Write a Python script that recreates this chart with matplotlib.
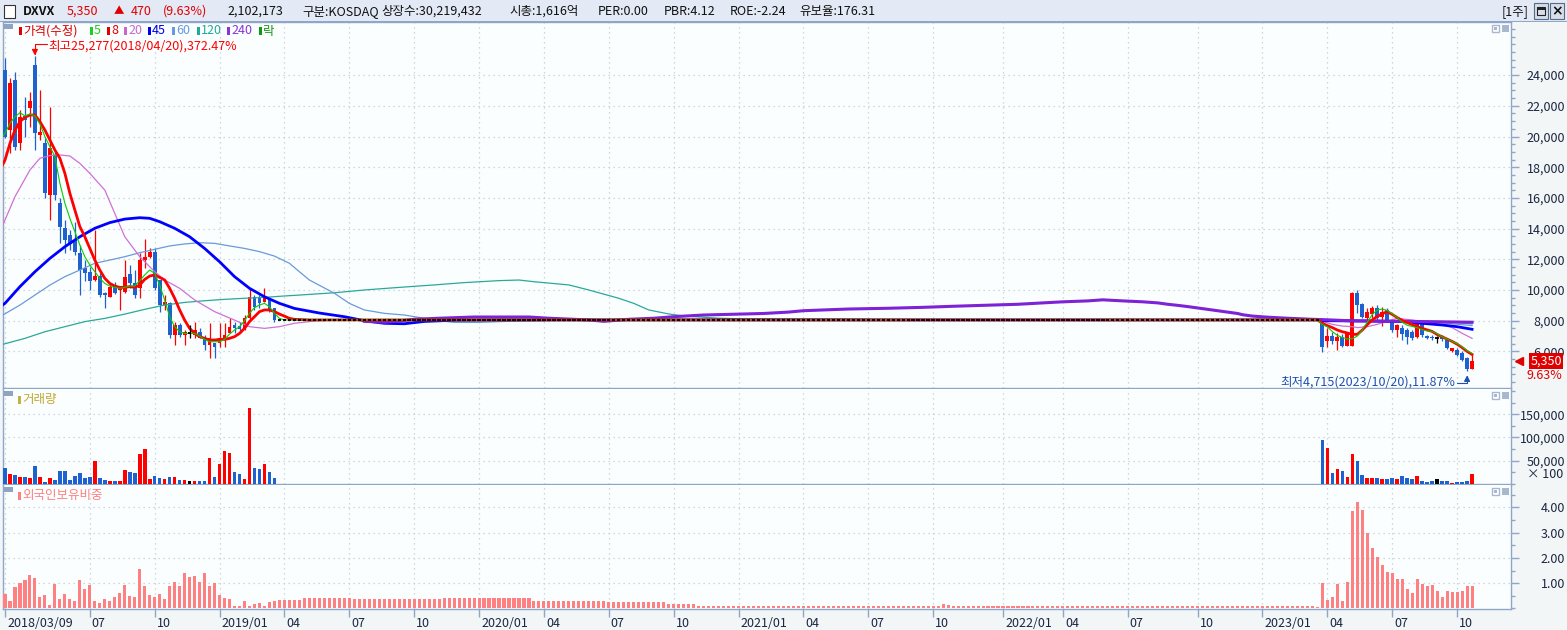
import numpy as np
import pandas as pd
import matplotlib
matplotlib.use("Agg")
import matplotlib.pyplot as plt
from matplotlib.patches import Rectangle
from matplotlib.ticker import FixedLocator, MultipleLocator, FuncFormatter
from matplotlib.transforms import ScaledTranslation, blended_transform_factory

plt.rcParams['font.family'] = ['Noto Sans CJK KR', 'DejaVu Sans']

# ---------------- data (weekly, adjusted price) ----------------
start_date = '2018-03-09'

# before the trading halt: 2018/03/09 ~ 2019/03/22
open_pre = [24330, 20420, 23680, 19550, 21340, 21840, 24660, 20100, 19550, 16190,
            18800, 15650, 14020, 13580, 13260, 12390, 11410, 11190, 10650, 10910,
            9820, 9560, 10260, 10000, 9890, 11040, 10480, 10110, 11950, 12130,
            12500, 10650, 9020, 9130, 7070, 7720, 7070, 7170, 7070, 7280,
            6960, 6410, 6520, 6520, 6740, 7170, 7720, 7650, 7500, 8150,
            9560, 9560, 9240, 9350, 8800]
high_pre = [25090, 23790, 24230, 21730, 22600, 22920, 25277, 23030, 19880, 21940,
            19120, 15970, 14560, 13910, 14450, 12930, 11950, 11520, 13910, 11080,
            9890, 10430, 10540, 10220, 11950, 11630, 11300, 12390, 13300, 12710,
            12710, 10650, 9670, 9240, 7940, 7830, 7390, 7720, 7940, 7500,
            7070, 7830, 6520, 7830, 7830, 8150, 7940, 7940, 8370, 10110,
            9670, 9670, 10110, 9460, 8800]
low_pre = [19880, 18900, 19120, 19120, 19990, 20640, 19120, 19770, 15970, 14560,
           15860, 13040, 12390, 12610, 12280, 9670, 10610, 10000, 10610, 9560,
           8800, 9560, 9740, 8700, 9820, 10110, 9460, 9460, 11410, 12060,
           10000, 8590, 8700, 6850, 6410, 6960, 6410, 6850, 6850, 6850,
           6090, 5550, 5550, 6310, 6310, 7170, 7170, 7170, 7390, 8040,
           8700, 8800, 9240, 8590, 7940]
close_pre = [19990, 23460, 19340, 21290, 21080, 22310, 20210, 20320, 16300, 19230,
             16190, 14130, 13260, 13000, 12500, 11300, 11080, 10610, 10930, 9670,
             9670, 10220, 9820, 10220, 10870, 10480, 9670, 11950, 12130, 12450,
             10110, 9020, 9240, 7070, 7720, 7070, 7280, 7170, 7390, 6850,
             6410, 6850, 6310, 6850, 7070, 7610, 7500, 7480, 8150, 9560,
             8910, 9130, 9460, 8700, 8050]

# trading halt: price frozen
halt_weeks = 209
halt_price = 8050

# after trading resumed: 2023/03/31 ~ 2023/10/27
open_post = [7940, 6680, 7030, 6680, 6960, 6370, 6370, 9780, 9070, 8200, 8420, 8810, 8260, 8700, 8050, 7390,
             7500, 7390, 7290, 6960, 7760, 7030, 6960, 6850, 6960, 6740, 6030, 6090, 5870, 5600, 4880]
high_post = [7940, 7500, 7290, 7180, 7110, 7290, 9850, 10000, 9130, 8810, 8980, 9000, 8920, 8800, 8100, 7760,
             7720, 7550, 7390, 7800, 7900, 7100, 7050, 7030, 7050, 6810, 6250, 6250, 6000, 5650, 5770]
low_post = [5980, 6310, 6460, 6090, 6310, 6370, 6370, 8480, 8150, 7890, 8150, 7950, 7680, 7950, 7290, 6960,
            6740, 6460, 6750, 6900, 6960, 6780, 6750, 6530, 6700, 6150, 5980, 5700, 5390, 4715, 4850]
close_post = [6310, 7030, 6680, 6960, 6370, 7180, 9780, 9020, 8260, 8550, 8810, 8200, 8590, 8000, 7390, 7720,
              7110, 6960, 6850, 7760, 7070, 6850, 6850, 6850, 6810, 6200, 6200, 5770, 5440, 4880, 5350]

# volume (x100 shares)
vol_pre = [34500, 21500, 19400, 15100, 15100, 12900, 38800, 15100, 4300, 12900,
           8600, 28000, 28000, 8600, 17200, 23700, 12900, 15100, 49600, 12900,
           8600, 6500, 6500, 6500, 30200, 25900, 23700, 64700, 75400, 10800,
           17200, 12900, 10800, 15100, 15100, 8600, 8600, 6500, 6500, 6500,
           6500, 56000, 15100, 43100, 71100, 66800, 25900, 21500, 10800, 163800,
           34500, 32300, 43100, 25900, 12900]
vol_post = [94800, 78300, 24400, 33000, 28000, 15800, 65400, 50300, 20000, 12900, 12900, 12900, 10800,
            10800, 12900, 10800, 17900, 12900, 10800, 17900, 6500, 5000, 6500, 10800, 6500, 6500,
            1500, 5000, 5000, 6500, 21000]

# foreign ownership ratio (%)
foreign_pre = [0.59, 0.31, 0.83, 1.02, 1.14, 1.34, 1.22, 0.47, 0.55, 0.12,
               0.98, 0.39, 0.59, 0.39, 0.28, 1.14, 0.79, 0.94, 0.28, 0.20,
               0.39, 0.31, 0.47, 0.63, 0.94, 0.51, 0.47, 1.57, 0.90, 0.55,
               0.47, 0.59, 0.39, 0.87, 1.06, 0.90, 1.42, 1.26, 1.30, 1.06,
               1.42, 0.90, 1.02, 0.55, 0.43, 0.39, 0.08, 0.08, 0.28, 0.08,
               0.16, 0.20, 0.08, 0.24, 0.28]
foreign_halt_vals = [0.32, 0.40, 0.36, 0.40, 0.28, 0.24, 0.17, 0.11, 0.16, 0.13, 0.09, 0.11, 0.08, 0.04]
foreign_halt_runs = [5, 10, 18, 18, 15, 12, 6, 49, 1, 1, 29, 36, 8, 1]
foreign_post = [1.02, 0.35, 0.46, 0.97, 0.31, 1.05, 3.87, 4.19, 3.90, 2.98, 2.40, 2.04, 1.72, 1.46, 1.41,
                1.17, 1.17, 0.77, 0.62, 1.17, 0.97, 0.89, 0.93, 0.70, 0.46, 0.70, 0.66, 0.66, 0.70, 0.90, 0.89]

# moving averages (week index, value)
ma5_w = list(range(-1, 57)) + [263] + list(range(264, 295))
ma5_v = [19770, 20210, 20860, 21290, 21550, 21340, 21470, 21340, 20820, 19990,
         19340, 18690, 16950, 15650, 14670, 13800, 12930, 12170, 11630, 11190,
         10760, 10430, 10260, 10170, 10110, 10170, 10260, 10260, 10610, 10980,
         11300, 11080, 10320, 9350, 8260, 7610, 7280, 7170, 7170, 7170,
         7000, 6780, 6630, 6630, 6630, 6780, 7130, 7390, 7610, 8000,
         8480, 8850, 9020, 9130, 8910, 8480, 8150, 8050,
         8050,
         7750, 7600, 7290, 7050, 6900, 6810, 6830, 7000, 7400, 7900, 8400, 8700, 8760, 8660, 8450,
         8200, 7900, 7700, 7630, 7540, 7420, 7330, 7300, 7150, 6950, 6800, 6650, 6500, 6300, 6050, 5870]

ma8_w = list(range(-1, 59)) + [61, 263] + list(range(264, 295))
ma8_v = [17820, 18470, 19560, 20420, 20970, 21250, 21400, 21400, 20970, 20420,
         19770, 19120, 18580, 17600, 16300, 15210, 14130, 13470, 12710, 11950,
         11300, 10760, 10430, 10260, 10170, 10170, 10220, 10170, 10320, 10690,
         10910, 10980, 10820, 10650, 10110, 9460, 8700, 8040, 7500, 7170,
         6960, 6850, 6740, 6740, 6780, 6780, 6850, 6960, 7170, 7500,
         7940, 8260, 8590, 8700, 8700, 8590, 8430, 8300, 8150, 8090,
         8050, 8050,
         7830, 7680, 7550, 7390, 7280, 7200, 7110, 7110, 7390, 7740, 8050, 8280, 8450, 8590, 8410,
         8200, 8020, 7880, 7740, 7600, 7500, 7400, 7300, 7100, 6950, 6800, 6650, 6470, 6250, 6000, 5800]

ma20_w = [-1, 2, 5, 7, 9, 11, 13, 15, 17, 20, 22, 24, 27, 30, 32, 35, 38, 42, 46, 49, 52, 55, 58, 62, 66,
          74, 263, 264, 266, 268, 270, 271, 273, 275, 277, 279, 282, 285, 288, 290, 292, 294]
ma20_v = [13800, 16080, 17820, 18580, 18760, 18800, 18730, 18250, 17600, 16510, 14990, 13470, 12170,
          11190, 10650, 10110, 9350, 8590, 8040, 7610, 7500, 7610, 7830, 7980, 8030,
          8050, 8050, 7960, 7760, 7650, 7610, 7550, 7610, 7760, 7980, 8150, 8050, 7890, 7760, 7550, 7180, 6850]

ma45_w = [-1, 0, 3, 6, 9, 12, 15, 18, 21, 24, 27, 29, 31, 34, 37, 40, 43, 46, 49, 52, 55, 58, 63, 68,
          72, 76, 80, 84, 90, 99, 263, 264, 273, 280, 284, 288, 291, 294]
ma45_v = [8910, 9130, 10220, 11190, 12060, 12820, 13470, 14020, 14390, 14620, 14710, 14670, 14450,
          14020, 13470, 12710, 11840, 10870, 10110, 9560, 9130, 8800, 8500, 8260,
          8000, 7830, 7800, 7950, 8030, 8050, 8050, 8000, 7980, 7940, 7830, 7720, 7610, 7440]

ma60_w = [-1, 3, 6, 9, 12, 15, 18, 21, 24, 27, 30, 33, 36, 39, 42, 45, 48, 51, 54, 57, 59, 61, 66, 69,
          72, 76, 80, 84, 87, 90, 95, 100, 114, 263, 264, 284, 288, 294]
ma60_v = [8260, 9020, 9670, 10320, 10870, 11300, 11740, 11950, 12170, 12430, 12650, 12870, 13000,
          13080, 13040, 12870, 12710, 12500, 12210, 11740, 11190, 10650, 9790, 9130,
          8700, 8480, 8370, 8160, 8000, 7890, 7890, 7950, 8050, 8050, 8030, 7980, 7860, 7680]

ma120_w = [-1, 4, 8, 12, 16, 20, 24, 28, 32, 36, 40, 44, 48, 52, 56, 59, 66, 72, 79, 86, 92, 99, 103,
           106, 113, 117, 123, 126, 129, 133, 136, 143, 148, 172, 176, 263, 264, 288, 294]
ma120_v = [6410, 6850, 7280, 7610, 7940, 8150, 8430, 8740, 9020, 9190, 9300, 9390, 9460, 9520, 9610,
           9670, 9820, 10000, 10170, 10330, 10480, 10610, 10650, 10540, 10330, 10000, 9460, 9130,
           8700, 8440, 8310, 8160, 8120, 8090, 8050, 8050, 8045, 7950, 7790]

ma240_w = [72, 76, 79, 82, 87, 94, 105, 109, 114, 117, 120, 125, 130, 134, 140, 146, 152, 157, 160,
           164, 169, 177, 184, 190, 196, 203, 208, 212, 217, 220, 224, 228, 231, 233, 235, 237, 239,
           241, 243, 245, 247, 248, 250, 253, 257, 262, 264, 270, 280, 294]
ma240_v = [7960, 7900, 7980, 8090, 8160, 8240, 8240, 8160, 8090, 8050, 7960, 8090, 8160, 8260, 8370,
           8420, 8470, 8560, 8650, 8700, 8760, 8810, 8870, 8940, 9000, 9070, 9160, 9230, 9290, 9360,
           9290, 9230, 9160, 9070, 9000, 8920, 8830, 8740, 8650, 8560, 8470, 8390, 8300, 8230, 8160,
           8090, 8070, 7990, 7960, 7900]

# ---------------- assemble ----------------
open_px = np.array(open_pre + [halt_price] * halt_weeks + open_post, dtype=float)
high_px = np.array(high_pre + [halt_price] * halt_weeks + high_post, dtype=float)
low_px = np.array(low_pre + [halt_price] * halt_weeks + low_post, dtype=float)
close_px = np.array(close_pre + [halt_price] * halt_weeks + close_post, dtype=float)
volume = np.concatenate([vol_pre, np.zeros(halt_weeks), vol_post])
foreign = np.concatenate([foreign_pre, np.repeat(foreign_halt_vals, foreign_halt_runs), foreign_post])
weeks = np.arange(len(close_px))
dates = pd.date_range(start_date, periods=len(weeks), freq='7D')

RED = '#FF0000'
BLUE = '#1F62CF'
AXC = '#8FA6C8'
TXT = '#1C2541'
GRID = '#C3CCD6'

col = np.where(close_px > open_px, RED, np.where(close_px < open_px, BLUE, 'black'))

W, H = 1567, 630
fig = plt.figure(figsize=(W / 100, H / 100), dpi=100, facecolor='#F2F6F6')


def rect(x0, y0, x1, y1):
    return [x0 / W, 1 - y1 / H, (x1 - x0) / W, (y1 - y0) / H]


def fig_rect(x0, y0, x1, y1, **kw):
    fig.add_artist(Rectangle((x0 / W, 1 - y1 / H), (x1 - x0) / W, (y1 - y0) / H,
                             transform=fig.transFigure, **kw))


def fig_text(x, y, s, **kw):
    fig.text(x / W, 1 - y / H, s, **kw)


ax_p = fig.add_axes(rect(3, 22, 1511, 388))
ax_v = fig.add_axes(rect(3, 389, 1511, 484), sharex=ax_p)
ax_f = fig.add_axes(rect(3, 485, 1511, 609), sharex=ax_p)

for ax in (ax_p, ax_v, ax_f):
    ax.set_facecolor('#FBFEFE')
    for s in ax.spines.values():
        s.set_color(AXC)
        s.set_linewidth(1)
    ax.set_axisbelow(True)
ax_v.spines['top'].set_visible(False)
ax_f.spines['top'].set_visible(False)

ax_p.set_xlim(-0.4, 301.8)
ax_p.set_ylim(3615, 27460)
ax_v.set_ylim(0, 204000)
ax_f.set_ylim(-0.02, 4.88)

# x ticks: first week of each quarter (the start date gets its own label)
tick_idx, tick_lbl = [0], [dates[0].strftime('%Y/%m/%d')]
for i in range(12, len(dates)):
    if dates[i].month != dates[i - 1].month and dates[i].month in (1, 4, 7, 10):
        tick_idx.append(i)
        tick_lbl.append(dates[i].strftime('%Y/%m') if dates[i].month == 1 else dates[i].strftime('%m'))

for ax in (ax_p, ax_v, ax_f):
    ax.set_xticks(tick_idx)
    ax.grid(True, axis='both', which='major', color=GRID, linestyle=(0, (1, 3)), lw=0.9)
ax_p.tick_params(axis='x', length=0, labelbottom=False)
ax_v.tick_params(axis='x', length=0, labelbottom=False)
ax_f.set_xticklabels(tick_lbl, ha='left')
ax_f.tick_params(axis='x', length=6, width=1, color=AXC, pad=0, labelsize=9, labelcolor=TXT)
for lab in ax_f.get_xticklabels():
    lab.set_transform(lab.get_transform() + ScaledTranslation(2 / 100, 0, fig.dpi_scale_trans))


def right_axis(ax, major, minor_step, fmt):
    ax.yaxis.tick_right()
    ax.yaxis.set_major_locator(FixedLocator(major))
    ax.yaxis.set_minor_locator(MultipleLocator(minor_step))
    ax.yaxis.set_major_formatter(FuncFormatter(fmt))
    ax.tick_params(axis='y', which='major', length=6, width=1, color=AXC, pad=33,
                   labelsize=9, labelcolor=TXT)
    ax.tick_params(axis='y', which='minor', length=3, width=1, color=AXC)
    for t in ax.yaxis.get_major_ticks():
        t.label2.set_horizontalalignment('right')


right_axis(ax_p, list(range(6000, 24001, 2000)), 500, lambda v, p: f'{int(v):,}')
right_axis(ax_v, [50000, 100000, 150000], 25000, lambda v, p: f'{int(v):,}')
right_axis(ax_f, [1, 2, 3, 4], 0.5, lambda v, p: f'{v:.2f}')

# ---------------- moving averages ----------------
ax_p.plot(ma120_w, ma120_v, color='#2AA89A', lw=0.9, zorder=4)
ax_p.plot(ma60_w, ma60_v, color='#6A9AD8', lw=0.9, zorder=4)
ax_p.plot(ma20_w, ma20_v, color='#D070D8', lw=0.9, zorder=4)
ax_p.plot(ma45_w, ma45_v, color='#0000FF', lw=2.0, zorder=4)
ax_p.plot(ma240_w, ma240_v, color='#7D22D6', lw=2.2, zorder=4)
ax_p.plot(ma8_w, ma8_v, color='#FF0000', lw=2.0, zorder=5)
ax_p.plot(ma5_w, ma5_v, color='#00D000', lw=0.8, zorder=5)

# ---------------- candles ----------------
flat = close_px == open_px
ax_p.vlines(weeks[~flat], low_px[~flat], high_px[~flat], colors=col[~flat], lw=0.9, zorder=3)
ax_p.bar(weeks[~flat], (close_px - open_px)[~flat], bottom=open_px[~flat], width=0.76,
         color=col[~flat], lw=0, zorder=3)
ax_p.vlines(weeks[flat], low_px[flat], high_px[flat], colors='black', lw=0.9, zorder=6)
ax_p.hlines(close_px[flat], weeks[flat] - 0.34, weeks[flat] + 0.34, colors='black', lw=1.3, zorder=6)

# ---------------- volume / foreign ----------------
ax_v.bar(weeks, volume, width=0.72, color=col, lw=0, zorder=3)
ax_f.bar(weeks, foreign, width=0.62, color='#FF8080', lw=0, zorder=3)

# ---------------- high / low marks ----------------
last = close_px[-1]
i_hi = int(np.argmax(high_px))
i_lo = int(np.argmin(low_px))
hi, lo = high_px[i_hi], low_px[i_lo]
hi_lbl = f'최고{int(hi):,}({dates[i_hi].strftime("%Y/%m/%d")}),{(hi - last) / last * 100:.2f}%'
lo_lbl = f'최저{int(lo):,}({dates[i_lo].strftime("%Y/%m/%d")}),{(last - lo) / last * 100:.2f}%'
ax_p.annotate('', xy=(i_hi, hi), xytext=(8.4, 8.6), textcoords='offset points',
              arrowprops=dict(arrowstyle='-|>,head_length=0.35,head_width=0.18', color=RED, lw=0.8,
                              connectionstyle='angle,angleA=180,angleB=90,rad=0',
                              shrinkA=0, shrinkB=0), zorder=7)
ax_p.annotate(hi_lbl, xy=(i_hi, hi), xytext=(9.4, 6.7), textcoords='offset points',
              ha='left', va='center', color=RED, fontsize=9, zorder=7)
ax_p.annotate('', xy=(i_lo, lo), xytext=(-7.5, -8.6), textcoords='offset points',
              arrowprops=dict(arrowstyle='-|>,head_length=0.35,head_width=0.18', color='#1F4FB0', lw=0.8,
                              connectionstyle='angle,angleA=0,angleB=90,rad=0',
                              shrinkA=0, shrinkB=3), zorder=7)
ax_p.annotate(lo_lbl, xy=(i_lo, lo), xytext=(-8.6, -7.9), textcoords='offset points',
              ha='right', va='center', color='#1F4FB0', fontsize=9, zorder=7)

# current price box on the axis
bt = blended_transform_factory(ax_p.transAxes, ax_p.transData)
chg = (close_px[-1] - close_px[-2]) / close_px[-2] * 100
ax_p.text(1.0338, last, f'{int(last):,}', transform=bt, ha='right', va='center', color='white',
          fontsize=9, clip_on=False, zorder=8,
          bbox=dict(boxstyle='square,pad=0.12', fc='#E00000', ec='none'))
ax_p.annotate(f'{chg:.2f}%', xy=(1.0338, last), xycoords=bt, xytext=(0, -10.5),
              textcoords='offset points', ha='right', va='center', color='#E00000', fontsize=9)
ax_p.plot([1.0055], [last], marker='<', color='#E00000', markersize=6, transform=bt, clip_on=False)

fig_text(1563, 475, '× 100', ha='right', va='center', fontsize=9, color=TXT)

# ---------------- header ----------------
fig_rect(0, 0, W, 21, facecolor='#E3EAF6', edgecolor='none')
fig_rect(0, 21, W, 22, facecolor=AXC, edgecolor='none')
fig_rect(3.5, 5, 14.5, 18, facecolor='white', edgecolor='#333333', lw=0.8)
hy = 11.5
fs = 9
fig_text(23, hy, 'DXVX', ha='left', va='center', fontsize=fs, color='#111111', fontweight='bold')
fig_text(67, hy, '5,350', ha='left', va='center', fontsize=fs, color='#E00000')
fig_text(114, hy, '▲', ha='left', va='center', fontsize=7.5, color='#E00000')
fig_text(131, hy, '470', ha='left', va='center', fontsize=fs, color='#E00000')
fig_text(163, hy, '(9.63%)', ha='left', va='center', fontsize=fs, color='#E00000')
for xx, s in [(227, '2,102,173'), (302, '구분:KOSDAQ'), (381, '상장수:30,219,432'),
              (509, '시총:1,616억'), (598, 'PER:0.00'), (664, 'PBR:4.12'),
              (730, 'ROE:-2.24'), (799, '유보율:176.31')]:
    fig_text(xx, hy, s, ha='left', va='center', fontsize=fs, color='#111111')
fig_text(1502, hy, '[1주]', ha='left', va='center', fontsize=fs, color='#111111')
fig_rect(1534, 3, 1548, 19, facecolor='#D5DEEA', edgecolor='#5A6A85', lw=0.8)
fig_rect(1537, 7, 1545, 10, facecolor='#222222', edgecolor='none')
fig_rect(1537, 7, 1545, 15, facecolor='none', edgecolor='#222222', lw=0.8)
fig_rect(1550, 3, 1564, 19, facecolor='#D5DEEA', edgecolor='#5A6A85', lw=0.8)
fig_text(1557, 11, '×', ha='center', va='center', fontsize=10, color='#111111', fontweight='bold',
         family='DejaVu Sans')

# ---------------- panel captions ----------------
for top in (24, 391, 487):
    fig_rect(4, top, 13, top + 5, facecolor='#8FA3C3', edgecolor='none')
    fig_rect(1492, top + 1, 1499, top + 8, facecolor='white', edgecolor='#A9B8CE', lw=1)
    fig_rect(1494, top + 3, 1497, top + 6, facecolor='#A9B8CE', edgecolor='none')
    fig_rect(1502, top + 1, 1509, top + 8, facecolor='#A9B8CE', edgecolor='none')

legend = [('가격(수정)', '#E00000', 19), ('5', '#22CC22', 90), ('8', '#E00000', 107),
          ('20', '#CC66CC', 124), ('45', '#0000EE', 148), ('60', '#6699DD', 172),
          ('120', '#22AA99', 197), ('240', '#8833DD', 227), ('락', '#119911', 259)]
for s, c, xx in legend:
    fig_rect(xx, 27, xx + 3, 35, facecolor=c, edgecolor='none')
    fig_text(xx + 4, 31, s, ha='left', va='center', fontsize=9, color=c)

fig_rect(18, 396, 21, 404, facecolor='#C8B040', edgecolor='none')
fig_text(22, 400, '거래량', ha='left', va='center', fontsize=9, color='#C0A830')
fig_rect(18, 492, 21, 500, facecolor='#FF7F7F', edgecolor='none')
fig_text(22, 496, '외국인보유비중', ha='left', va='center', fontsize=9, color='#FF7F7F')

fig.savefig('out.png', dpi=100, facecolor=fig.get_facecolor())
